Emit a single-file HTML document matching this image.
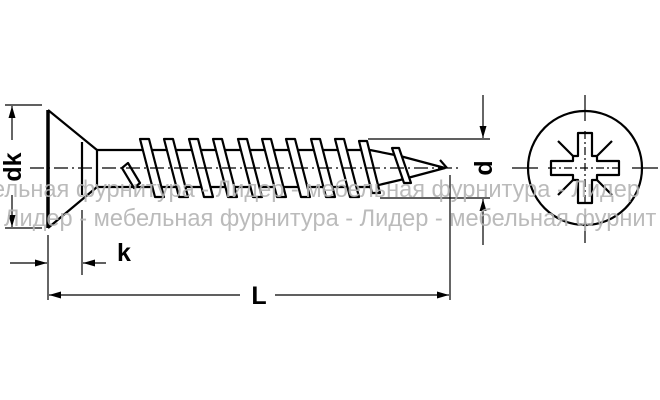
<!DOCTYPE html>
<html><head><meta charset="utf-8"><style>
html,body{margin:0;padding:0;background:#fff;width:660px;height:400px;overflow:hidden}
svg{display:block}
</style></head><body>
<svg width="660" height="400" viewBox="0 0 660 400" xmlns="http://www.w3.org/2000/svg">
<defs>
<marker id="a" viewBox="0 0 12 7" refX="12" refY="3.5" markerWidth="12" markerHeight="7" orient="auto" markerUnits="userSpaceOnUse"><path d="M0,0L12,3.5L0,7z" fill="#000"/></marker>
</defs>
<g stroke="#000" fill="none" stroke-width="2.2" stroke-linejoin="round">
<line x1="48" y1="110" x2="48" y2="228" stroke-width="3.5"/>
<polyline points="48,110 97,150 97,187 48,228"/>
<line x1="82" y1="142" x2="82" y2="195"/>
<line x1="97" y1="150" x2="370" y2="150"/>
<line x1="97" y1="187" x2="370" y2="187"/>
<polyline points="370,150 400,156 445,168 400,180 370,187"/>
<line x1="440" y1="160" x2="447" y2="168"/>
<g fill="#fff">
<polygon points="122,168 128,163 140,183 134,188"/>
<polygon points="140,139 149,139 164,197 155,197"/>
<polygon points="164,139 173,139 188,197 179,197"/>
<polygon points="189,139 198,139 213,197 204,197"/>
<polygon points="213,139 222,139 237,197 228,197"/>
<polygon points="238,139 247,139 262,197 253,197"/>
<polygon points="262,139 271,139 286,197 277,197"/>
<polygon points="286,139 295,139 310,197 301,197"/>
<polygon points="311,139 320,139 335,197 326,197"/>
<polygon points="335,139 344,139 359,197 350,197"/>
<polygon points="359,141 367,141 380,193 372,193"/>
<polygon points="392,148 399,148 411,183 404,183"/>
</g>
<line x1="30" y1="168" x2="460" y2="168" stroke-width="1.2" stroke-dasharray="14,4,2,4"/>
<line x1="5" y1="105" x2="42" y2="105" stroke-width="1.2"/>
<line x1="5" y1="228" x2="42" y2="228" stroke-width="1.2"/>
<line x1="12" y1="140" x2="12" y2="106" stroke-width="1.2" marker-end="url(#a)"/>
<line x1="12" y1="195" x2="12" y2="227" stroke-width="1.2" marker-end="url(#a)"/>
<line x1="48" y1="235" x2="48" y2="300" stroke-width="1.2"/>
<line x1="82" y1="210" x2="82" y2="275" stroke-width="1.2"/>
<line x1="10" y1="263" x2="47" y2="263" stroke-width="1.2" marker-end="url(#a)"/>
<line x1="106" y1="263" x2="83" y2="263" stroke-width="1.2" marker-end="url(#a)"/>
<line x1="450" y1="175" x2="450" y2="300" stroke-width="1.2"/>
<line x1="240" y1="295" x2="49" y2="295" stroke-width="1.2" marker-end="url(#a)"/>
<line x1="275" y1="295" x2="449" y2="295" stroke-width="1.2" marker-end="url(#a)"/>
<line x1="368" y1="139" x2="490" y2="139" stroke-width="1.2"/>
<line x1="380" y1="198" x2="490" y2="198" stroke-width="1.2"/>
<line x1="483" y1="95" x2="483" y2="138" stroke-width="1.2" marker-end="url(#a)"/>
<line x1="483" y1="245" x2="483" y2="199" stroke-width="1.2" marker-end="url(#a)"/>
<circle cx="585" cy="168" r="57"/>
<line x1="512" y1="168" x2="538" y2="168" stroke-width="1.2"/>
<line x1="632" y1="168" x2="658" y2="168" stroke-width="1.2"/>
<line x1="585" y1="95" x2="585" y2="121" stroke-width="1.2"/>
<line x1="585" y1="215" x2="585" y2="243" stroke-width="1.2"/>
<line x1="548" y1="168" x2="622" y2="168" stroke-width="1.2" stroke-dasharray="8,3,2,3"/>
<line x1="585" y1="131" x2="585" y2="205" stroke-width="1.2" stroke-dasharray="8,3,2,3"/>
<path d="M578,133 H592 V156 H597 V161 H619 V175 H597 V180 H592 V203 H578 V180 H573 V175 H551 V161 H573 V156 H578 Z"/>
<line x1="558" y1="141" x2="573" y2="156"/>
<line x1="612" y1="141" x2="597" y2="156"/>
<line x1="558" y1="195" x2="573" y2="180"/>
<line x1="612" y1="195" x2="597" y2="180"/>
</g>
<g font-family="Liberation Sans, sans-serif" font-weight="bold" font-size="25" fill="#000">
<text transform="translate(21,167) rotate(-90)" text-anchor="middle">dk</text>
<text x="124" y="261" text-anchor="middle">k</text>
<text x="259" y="304" text-anchor="middle">L</text>
<text transform="translate(492,168) rotate(-90)" text-anchor="middle">d</text>
</g>
<g font-family="Liberation Sans, sans-serif" font-size="23.6" fill="#b4b4b4" fill-opacity="0.9">
<text x="-8" y="197">ельная фурнитура - Лидер - мебельная фурнитура - Лидер</text>
<text x="4" y="226">Лидер - мебельная фурнитура - Лидер - мебельная фурнит</text>
</g>
</svg>
</body></html>
